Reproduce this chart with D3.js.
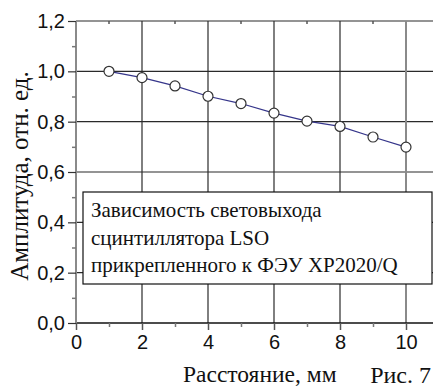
<!DOCTYPE html>
<html>
<head>
<meta charset="utf-8">
<script src="https://cdn.jsdelivr.net/npm/d3@7"></script>
<style>
  html, body { margin: 0; padding: 0; background: #fff; overflow: hidden; }
  svg { display: block; }
</style>
</head>
<body>
<svg id="chart" width="433" height="390"></svg>
<script>
// ---- data ----
const distance = [1, 2, 3, 4, 5, 6, 7, 8, 9, 10];
const amplitude = [1.00, 0.975, 0.942, 0.901, 0.872, 0.834, 0.802, 0.781, 0.739, 0.699];
const xTicks = [0, 2, 4, 6, 8, 10];
const xMinorTicks = [1, 3, 5, 7, 9, 11];
const yTicks = [0, 0.2, 0.4, 0.6, 0.8, 1.0, 1.2];
const yMinorTicks = [0.1, 0.3, 0.5, 0.7, 0.9, 1.1];
const legendLines = ["Зависимость световыхода", "сцинтиллятора LSO", "прикрепленного к ФЭУ XP2020/Q"];
const xTitle = "Расстояние, мм";
const yTitle = "Амплитуда, отн. ед.";
const figLabel = "Рис. 7";

const svg = d3.select("#chart");
const x = d3.scaleLinear().domain([0, 12]).range([76, 472]);
const y = d3.scaleLinear().domain([0, 1.2]).range([323, 21]);
const fmt = d => d3.format(".1f")(d).replace(".", ",");
const sans = "'Liberation Sans', Arial, sans-serif";
const serif = "'Liberation Serif', 'Times New Roman', 'DejaVu Serif', serif";

// grid lines
svg.append("g").selectAll("line").data(yTicks.slice(1)).join("line")
  .attr("x1", x(0)).attr("x2", 433)
  .attr("y1", d => y(d)).attr("y2", d => y(d))
  .attr("stroke", "#2a2a2a").attr("stroke-width", 1.2);
svg.append("g").selectAll("line").data(xTicks.slice(1)).join("line")
  .attr("x1", d => x(d)).attr("x2", d => x(d))
  .attr("y1", y(1.2)).attr("y2", y(0))
  .attr("stroke", d => d === 10 ? "#8a8a8a" : "#2a2a2a")
  .attr("stroke-width", d => d === 10 ? 2 : 1.2);

// top minor ticks (inward)
svg.append("g").selectAll("line").data(xMinorTicks).join("line")
  .attr("x1", d => x(d)).attr("x2", d => x(d))
  .attr("y1", y(1.2)).attr("y2", y(1.2) + 3)
  .attr("stroke", "#555").attr("stroke-width", 1.5);

// axes
const xAxis = d3.axisBottom(x).tickValues(xTicks).tickFormat(d3.format("d")).tickSize(7).tickPadding(5);
const gx = svg.append("g").attr("transform", `translate(0,${y(0)})`).call(xAxis);
gx.select(".domain").attr("stroke", "#111").attr("stroke-width", 1.5).attr("d", `M${x(0)},0H433`);
gx.selectAll(".tick line").attr("stroke", "#555").attr("stroke-width", 1.5);
gx.selectAll("text").attr("font-family", sans).attr("font-size", 20).attr("fill", "#111");
svg.append("g").attr("transform", `translate(0,${y(0)})`)
  .call(d3.axisBottom(x).tickValues(xMinorTicks).tickFormat("").tickSize(4))
  .call(g => g.select(".domain").remove())
  .selectAll("line").attr("stroke", "#777").attr("stroke-width", 1.5);

const yAxis = d3.axisLeft(y).tickValues(yTicks).tickFormat(fmt).tickSize(8).tickPadding(3);
const gy = svg.append("g").attr("transform", `translate(${x(0)},0)`).call(yAxis);
gy.select(".domain").attr("stroke", "#8a8a8a").attr("stroke-width", 2).attr("d", `M0,${y(1.2)}V${y(0)}`);
gy.selectAll(".tick line").attr("stroke", "#333").attr("stroke-width", 1.2);
gy.selectAll("text").attr("font-family", sans).attr("font-size", 20).attr("fill", "#111");
svg.append("g").attr("transform", `translate(${x(0)},0)`)
  .call(d3.axisLeft(y).tickValues(yMinorTicks).tickFormat("").tickSize(4))
  .call(g => g.select(".domain").remove())
  .selectAll("line").attr("stroke", "#777").attr("stroke-width", 1.5);

// data line
const line = d3.line().x((d, i) => x(distance[i])).y(d => y(d));
svg.append("path").datum(amplitude)
  .attr("d", line).attr("fill", "none").attr("stroke", "#35358a").attr("stroke-width", 1.2);
svg.append("g").selectAll("circle").data(amplitude).join("circle")
  .attr("cx", (d, i) => x(distance[i])).attr("cy", d => y(d)).attr("r", 5)
  .attr("fill", "#fff").attr("stroke", "#333").attr("stroke-width", 1.2);

// legend box
const lg = svg.append("g");
lg.append("rect").attr("x", 83).attr("y", 192).attr("width", 349).attr("height", 92)
  .attr("fill", "#fff").attr("stroke", "#111").attr("stroke-width", 1.2);
lg.selectAll("text").data(legendLines).join("text")
  .attr("x", 91).attr("y", (d, i) => 217 + i * 27.5)
  .attr("font-family", serif).attr("font-size", 21).attr("fill", "#111")
  .text(d => d);

// titles
svg.append("text").attr("x", 183).attr("y", 382)
  .attr("font-family", serif).attr("font-size", 23.5).attr("fill", "#111")
  .text(xTitle);
svg.append("text").attr("x", 431).attr("y", 383).attr("text-anchor", "end")
  .attr("font-family", serif).attr("font-size", 24).attr("fill", "#111")
  .text(figLabel);
svg.append("text").attr("transform", "translate(28,176) rotate(-90)").attr("text-anchor", "middle")
  .attr("font-family", serif).attr("font-size", 25).attr("fill", "#111")
  .text(yTitle);
</script>
</body>
</html>
